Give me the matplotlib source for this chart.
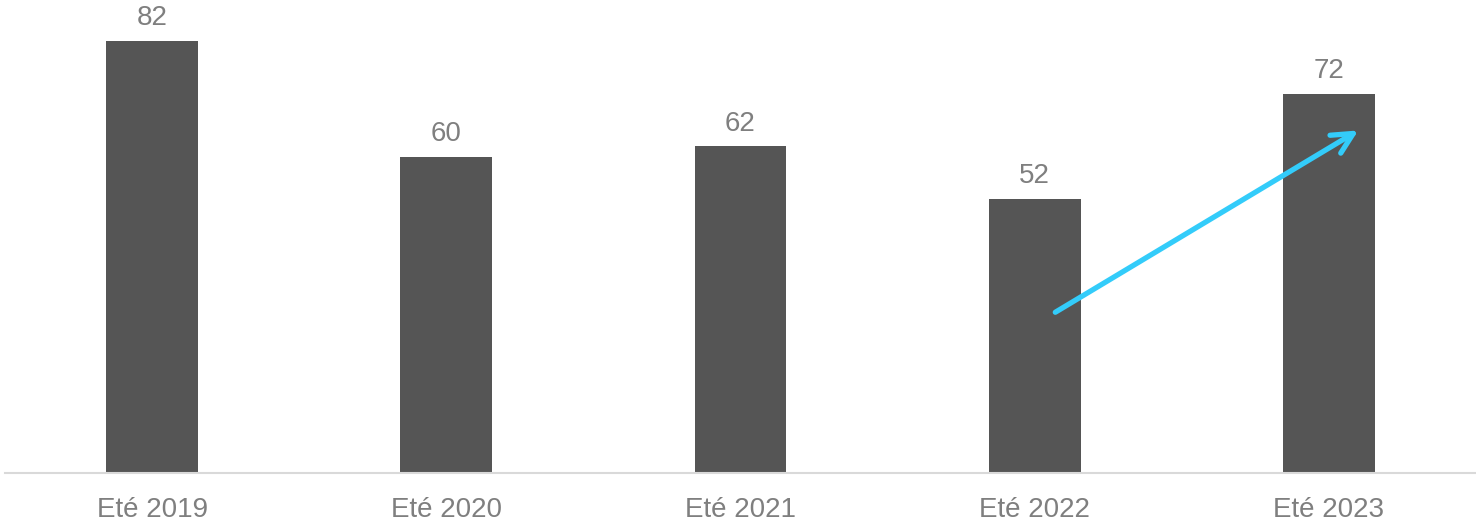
import matplotlib.pyplot as plt

plt.rcParams['font.family'] = ['Liberation Sans', 'DejaVu Sans']

# Data
categories = ['Eté 2019', 'Eté 2020', 'Eté 2021', 'Eté 2022', 'Eté 2023']
values = [82, 60, 62, 52, 72]

# Trend arrow (data coords)
arrow_start = (3.07, 30.5)
arrow_end = (4.1, 65.0)

fig = plt.figure(figsize=(14.76, 5.25), dpi=100)
ax = fig.add_axes([5 / 1476, 52 / 525, 1471 / 1476, 473 / 525])

x = range(len(categories))
bars = ax.bar(x, values, width=0.312, color='#555555', zorder=2)

# Value labels above bars
for xi, v in zip(x, values):
    ax.annotate(str(v), (xi, v), xytext=(0, 7), textcoords='offset points',
                ha='center', va='bottom', fontsize=20, color='#7f7f7f')

ax.set_xlim(-0.5, 4.5)
ax.set_ylim(0, 89.75)
ax.set_xticks(list(x))
ax.set_xticklabels(categories, fontsize=20, color='#7f7f7f')
ax.tick_params(axis='x', length=0, pad=17)
ax.set_yticks([])

for side in ['top', 'right', 'left']:
    ax.spines[side].set_visible(False)
ax.spines['bottom'].set_color('#d9d9d9')
ax.spines['bottom'].set_linewidth(1.5)

# Trend arrow
ax.annotate('', xy=arrow_end, xytext=arrow_start,
            arrowprops=dict(arrowstyle='->,head_length=1.5,head_width=0.75',
                            color='#33ccfa', lw=3.8, shrinkA=0, shrinkB=0,
                            capstyle='round', joinstyle='round'),
            zorder=3)

plt.savefig('out.png', dpi=100)
plt.close()
